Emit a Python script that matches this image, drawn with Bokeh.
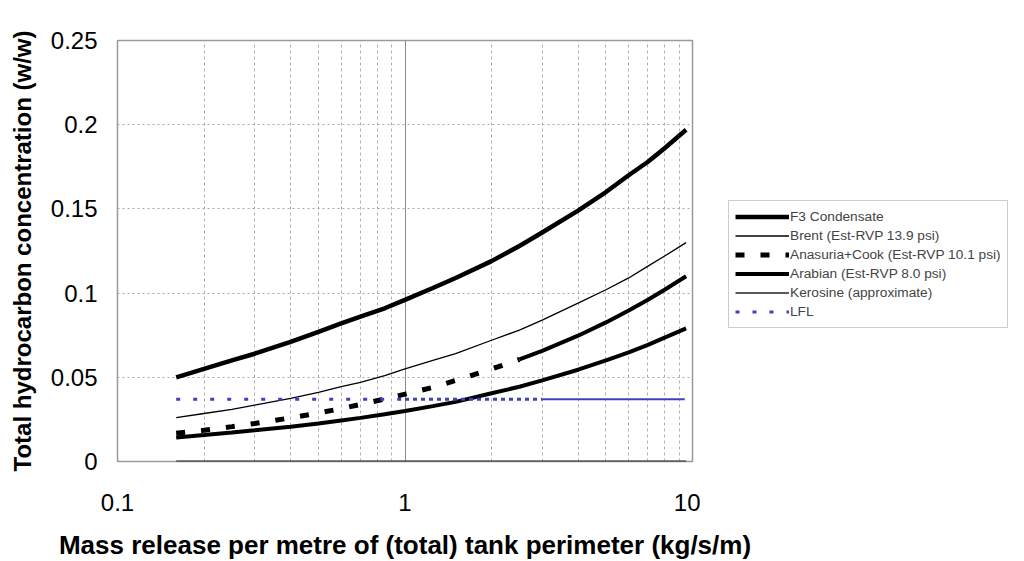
from bokeh.plotting import figure
from bokeh.layouts import row, column
from bokeh.models import FixedTicker, Legend, LegendItem, ColumnDataSource, Title
from bokeh.embed import file_html
from bokeh.resources import INLINE

# ---- data ----
mass_release = [0.16, 0.2, 0.25, 0.3, 0.4, 0.5, 0.6, 0.7, 0.85, 1.0, 1.25, 1.5, 2.0, 2.5,
                3.0, 4.0, 5.0, 6.0, 7.0, 8.0, 9.5]
f3_condensate = [0.050, 0.055, 0.060, 0.064, 0.071, 0.077, 0.082, 0.086, 0.091, 0.096, 0.103,
                 0.109, 0.119, 0.128, 0.136, 0.149, 0.160, 0.170, 0.178, 0.186, 0.197]
brent = [0.026, 0.0285, 0.031, 0.0335, 0.0375, 0.041, 0.0445, 0.047, 0.051, 0.055, 0.060,
         0.064, 0.072, 0.078, 0.084, 0.094, 0.102, 0.109, 0.116, 0.122, 0.130]
anasuria_cook = [0.0168, 0.0185, 0.0207, 0.0226, 0.0259, 0.0288, 0.0314, 0.0339, 0.0371, 0.040,
                 0.044, 0.0481, 0.0549, 0.0606, 0.0657, 0.0747, 0.0826, 0.0897, 0.0961, 0.102,
                 0.110]
arabian = [0.0143, 0.0157, 0.0172, 0.0185, 0.0207, 0.0226, 0.0244, 0.0259, 0.0280, 0.030,
           0.0329, 0.0354, 0.0405, 0.0444, 0.0482, 0.0545, 0.060, 0.0648, 0.0693, 0.0736, 0.079]
kerosine = [0.0] * 21
lfl_x = [0.16, 1.0, 3.0, 9.4]
lfl_y = [0.037, 0.037, 0.037, 0.037]

x_ticks = [0.1, 1, 10]
x_minor = [0.2, 0.3, 0.4, 0.5, 0.6, 0.7, 0.8, 0.9, 2, 3, 4, 5, 6, 7, 8, 9]
x_tick_labels = ["0.1", "1", "10"]
y_ticks = [0, 0.05, 0.1, 0.15, 0.2, 0.25]
y_tick_labels = ["0", "0.05", "0.1", "0.15", "0.2", "0.25"]

x_title = "Mass release per metre of (total) tank perimeter (kg/s/m)"
y_title = "Total hydrocarbon concentration (w/w)"
legend_labels = ["F3 Condensate", "Brent (Est-RVP 13.9 psi)", "Anasuria+Cook (Est-RVP 10.1 psi)",
                 "Arabian (Est-RVP 8.0 psi)", "Kerosine (approximate)", "LFL"]

# ---- styles ----
BLACK = "black"
LFL_COL = "#4040c0"
styles = [
    dict(line_color=BLACK, line_width=4.5),                       # F3
    dict(line_color=BLACK, line_width=1.3),                       # Brent
    dict(line_color=BLACK, line_width=5, line_dash="9 16"),       # Anasuria (dashed)
    dict(line_color=BLACK, line_width=4),                         # Arabian
    dict(line_color="#222222", line_width=1.5),                   # Kerosine
    dict(line_color=LFL_COL, line_width=3, line_dash="4 13"),     # LFL
]

W = 1008
FL, FT, FW, FH = 117, 40, 575, 421
PW, PH = 700, 516          # chart figure (frame + y axis + x tick labels)
RH = 43                    # strip below that holds the x-axis title
FONT = "Liberation Sans"

p = figure(width=PW, height=PH, x_axis_type="log", x_range=(0.1, 10), y_range=(0, 0.25),
           output_backend="svg", toolbar_location=None,
           min_border_left=FL, min_border_right=PW - FL - FW,
           min_border_top=FT, min_border_bottom=PH - FT - FH)
p.background_fill_color = "white"
p.border_fill_color = "white"
p.outline_line_color = "#9a9a9a"
p.outline_line_width = 1.5

p.xaxis.ticker = FixedTicker(ticks=x_ticks, minor_ticks=x_minor)
p.yaxis.ticker = FixedTicker(ticks=y_ticks)
p.xaxis.major_label_overrides = {t: l for t, l in zip(x_ticks, x_tick_labels)}
p.yaxis.major_label_overrides = {t: l for t, l in zip(y_ticks, y_tick_labels)}

for ax in (p.xaxis, p.yaxis):
    ax.axis_line_color = None
    ax.major_tick_line_color = None
    ax.minor_tick_line_color = None
    ax.major_tick_out = 0
    ax.major_label_text_font = FONT
    ax.major_label_text_font_size = "24px"
    ax.major_label_text_color = "black"

p.yaxis.axis_label = y_title
p.yaxis.axis_label_text_font = FONT
p.yaxis.axis_label_text_font_style = "bold"
p.yaxis.axis_label_text_font_size = "24px"
p.yaxis.axis_label_text_color = "black"
p.yaxis.major_label_standoff = 20
p.yaxis.axis_label_standoff = 12
p.xaxis.major_label_standoff = 28

p.xgrid.grid_line_color = "#8a8a8a"
p.xgrid.grid_line_width = 1
p.xgrid.minor_grid_line_color = "#b0b0b0"
p.xgrid.minor_grid_line_dash = "3 3"
p.ygrid.grid_line_color = "#a8a8a8"
p.ygrid.grid_line_dash = "2 3"

src = ColumnDataSource(dict(x=mass_release, f3=f3_condensate, brent=brent,
                            arab=arabian, ker=kerosine))
p.line("x", "f3", source=src, **styles[0])
p.line("x", "brent", source=src, **styles[1])
split = 14  # Anasuria drawn dashed at low release, dense (solid-looking) above ~2.5
p.line(mass_release[:split], anasuria_cook[:split], **styles[2])
p.line(mass_release[split - 1:], anasuria_cook[split - 1:], line_color=BLACK, line_width=4)
p.line("x", "arab", source=src, **styles[3])
p.line("x", "ker", source=src, line_color="#222222", line_width=2)
p.line(lfl_x[:2], lfl_y[:2], **styles[5])
p.line(lfl_x[1:3], lfl_y[1:3], line_color=LFL_COL, line_width=3, line_dash="4 4")
p.line(lfl_x[2:], lfl_y[2:], line_color=LFL_COL, line_width=2)

# ---- legend panel (to the right of the chart) ----
QW = W - PW
q = figure(width=QW, height=PH, x_range=(0, 1), y_range=(0, 1), output_backend="svg",
           toolbar_location=None, x_axis_location=None, y_axis_location=None,
           min_border_left=0, min_border_right=0, min_border_top=0, min_border_bottom=0)
q.outline_line_color = None
q.xgrid.visible = False
q.ygrid.visible = False
q.border_fill_color = "white"
nan = float("nan")
items = []
for lab, st in zip(legend_labels, styles):
    rr = q.line([nan], [nan], **st)   # legend key only, nothing is plotted
    items.append(LegendItem(label=lab, renderers=[rr]))
legend = Legend(items=items, location=(728 - PW, 133), glyph_width=54, glyph_height=19,
                label_height=19, label_standoff=1, spacing=0, padding=6, margin=0,
                label_text_font=FONT, label_text_font_size="13.7px",
                border_line_color="#9a9a9a", border_line_width=1.5, background_fill_alpha=1)
q.add_layout(legend, "center")

# ---- strip below with the x-axis title, centred on the chart frame ----
r = figure(width=W, height=RH, x_range=(0, 1), y_range=(0, 1), output_backend="svg",
           toolbar_location=None, x_axis_location=None, y_axis_location=None,
           min_border_left=FL, min_border_right=W - FL - FW, min_border_top=10,
           min_border_bottom=RH - 11)
r.outline_line_color = None
r.xgrid.visible = False
r.ygrid.visible = False
r.border_fill_color = "white"
r.background_fill_color = "white"
r.add_layout(Title(text=x_title, align="center", text_font=FONT, text_font_style="bold",
                   text_font_size="26px", text_color="black", standoff=0, offset=0), "below")

layout = column(row(p, q, spacing=0), r, spacing=0)
open("out.html", "w").write(file_html(layout, INLINE))
